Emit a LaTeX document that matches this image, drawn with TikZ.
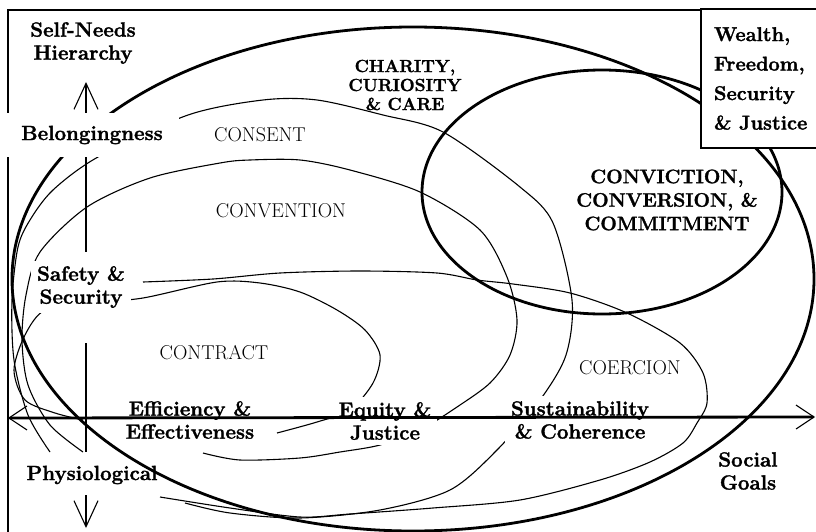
\documentclass[tikz,border=0pt]{standalone}
\usepackage{fontspec}
\setmainfont{Latin Modern Roman}[BoldFeatures={FakeBold=1.5}]
\usetikzlibrary{arrows.meta}
\tikzstyle{needlabel} = [font=\fontsize{20.5}{23}\selectfont\bfseries, align=center]
\tikzstyle{maskedlabel} = [needlabel, fill=white, inner xsep=6pt, inner ysep=5pt]
\tikzstyle{modelabel} = [font=\fontsize{20}{22}\selectfont]
\tikzstyle{capslabel} = [font=\fontsize{17.5}{19}\selectfont\bfseries, align=center]
\tikzstyle{thickline} = [line width=2.8pt]
\tikzstyle{thinline} = [line width=1.1pt]
\tikzstyle{axisline} = [line width=2.8pt]
\tikzstyle{barbend} = [-{Straight Barb[length=26pt,width=24pt,line width=1.1pt]}]

\begin{document}
\begin{tikzpicture}[x=1pt, y=-1pt]
    \useasboundingbox (0,0) rectangle (816,532);
    % Frame
    \draw[line width=1.5pt] (8,532) -- (8,10) -- (816,10);
    % Ellipses
    \draw[thickline] (413,279) ellipse [x radius=401pt, y radius=252pt];
    \draw[thickline] (602,192) ellipse [x radius=180pt, y radius=122pt];
    % Curves
    \draw[thinline] plot[smooth] coordinates {(50,452) (28,415) (14,360) (12,300) (18,247) (30,220) (53,190) (98,157) (188,115) (263,100) (317,100) (383,115) (443,132) (520,187) (553,223) (572,300) (566,355) (540,400) (497,450) (450,490) (380,510) (300,518) (230,513) (185,503)};
    \draw[thinline] plot[smooth] coordinates {(83,452) (50,425) (28,385) (22,340) (26,295) (40,252) (87,207) (150,178) (220,163) (250,160) (300,160) (350,170) (420,192) (480,230) (507,277) (517,320) (510,355) (490,383) (457,407) (420,430) (380,445) (340,452) (300,458) (240,460) (203,453)};
    \draw[thinline] plot[smooth] coordinates {(83,420) (55,413) (25,400) (14,370) (25,335) (45,310) (90,303) (143,298) (217,282) (260,283) (300,292) (337,310) (365,330) (380,355) (373,383) (350,410) (317,422) (277,433)};
    \draw[thinline] plot[smooth] coordinates {(143,282) (213,279) (280,273) (360,271) (437,273) (477,280) (513,284) (570,293) (627,313) (680,343) (703,373) (707,403) (697,423) (683,443) (650,462) (600,480) (520,500) (433,508) (350,514) (300,517) (230,508) (160,497)};
    % Labels
    \node (selfneeds) [needlabel] at (83,43) {Self-Needs\\Hierarchy};
    \node (belong) [maskedlabel, inner xsep=16pt, inner ysep=13pt] at (92,135) {Belongingness};
    \node (safety) [maskedlabel] at (81,287) {Safety \&\\Security};
    \node (physio) [needlabel] at (92,475) {Physiological};
    \node (effic) [maskedlabel] at (190,420) {Efficiency \&\\Effectiveness};
    \node (equity) [maskedlabel] at (385,421) {Equity \&\\Justice};
    \node (sustain) [maskedlabel] at (580,420) {Sustainability\\\& Coherence};
    \node (social) [needlabel] at (748,471) {Social\\Goals};
    \node (charity) [capslabel] at (405,85) {CHARITY,\\CURIOSITY\\\& CARE};
    \node (conviction) [capslabel, font=\fontsize{19.5}{23.5}\selectfont\bfseries] at (667,200) {CONVICTION,\\CONVERSION, \&\\COMMITMENT};
    \node (consent) [modelabel] at (260,135) {CONSENT};
    \node (convention) [modelabel] at (281,211) {CONVENTION};
    \node (contract) [modelabel] at (214,353) {CONTRACT};
    \node (coercion) [modelabel] at (630,368) {COERCION};
    % Axes
    \coordinate (uptip) at (86,82);
    \coordinate (vtop) at (86,252);
    \coordinate (vmid) at (86,343);
    \coordinate (vlow) at (86,452);
    \coordinate (vdown) at (86,495);
    \coordinate (downtip) at (86,528);
    \coordinate (hleft) at (8,418);
    \coordinate (hright) at (815,417);
    \draw[axisline, barbend] (belong.north -| uptip) -- (uptip);
    \draw[axisline] (belong.south -| uptip) -- (vtop);
    \draw[axisline] (vmid) -- (vlow);
    \draw[axisline, barbend] (vdown) -- (downtip);
    \draw[axisline, {Straight Barb[length=18pt,width=24pt,line width=1.1pt]}-{Straight Barb[length=18pt,width=24pt,line width=1.1pt]}] (hleft) -- (hright);
    % Box
    \node (wealth) [draw, line width=2pt, fill=white, anchor=north west, align=left, minimum height=139pt, inner xsep=13pt, font=\fontsize{20}{29.5}\selectfont\bfseries] at (700,8) {Wealth,\\Freedom,\\Security\\\& Justice};
\end{tikzpicture}
\end{document}
